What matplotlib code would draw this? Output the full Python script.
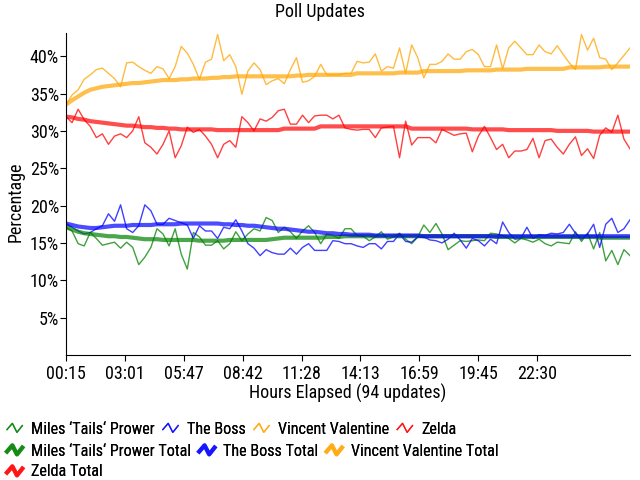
import matplotlib

matplotlib.use("Agg")
import matplotlib.pyplot as plt
import numpy as np
from matplotlib.legend_handler import HandlerBase
from matplotlib.lines import Line2D

plt.rcParams["font.family"] = ["Roboto Condensed", "Archivo Narrow", "DejaVu Sans"]
plt.rcParams["font.size"] = 13

# x axis: 94 updates, labelled with elapsed time
tick_labels = ["00:15", "03:01", "05:47", "08:42", "11:28", "14:13", "16:59", "19:45", "22:30"]

miles = [
    17.1, 16.6, 14.9, 14.6, 16.4, 15.6, 14.7, 14.9, 15.1, 14.3, 15.1, 14.4, 12.1, 13.1, 14.4, 16.9,
    16.2, 14.6, 16.9, 13.5, 11.5, 16.4, 15.8, 14.7, 14.7, 15.3, 14.2, 14.9, 16.5, 15.3, 16.2, 16.9,
    16.6, 18.4, 18.0, 16.4, 17.1, 16.5, 15.6, 16.6, 17.3, 16.4, 14.9, 16.2, 16.0, 15.6, 16.9, 16.9,
    16.0, 15.9, 15.3, 15.8, 16.5, 15.5, 15.8, 16.3, 15.5, 14.9, 15.8, 17.4, 16.4, 17.6, 16.2, 14.1,
    14.7, 15.3, 15.2, 15.3, 15.4, 15.3, 16.3, 16.2, 16.0, 15.6, 15.0, 15.6, 15.4, 15.1, 15.5, 14.9,
    14.6, 15.1, 15.0, 14.9, 16.5, 15.2, 16.3, 14.2, 16.4, 12.6, 14.0, 12.1, 14.1, 13.3,
]
boss = [
    17.6, 17.1, 16.6, 16.2, 16.4, 16.9, 17.3, 18.9, 17.9, 20.1, 16.9, 16.4, 17.3, 20.1, 19.3, 17.5,
    17.5, 18.3, 18.0, 17.7, 17.4, 15.6, 17.3, 16.6, 16.6, 15.6, 17.1, 16.9, 18.1, 16.6, 14.9, 14.3,
    13.3, 14.1, 13.7, 13.5, 13.5, 14.3, 13.5, 14.4, 14.9, 14.0, 14.0, 14.0, 15.3, 15.2, 14.9, 14.9,
    14.6, 14.4, 14.9, 14.9, 14.2, 15.2, 15.2, 16.2, 15.2, 15.1, 15.8, 15.8, 15.4, 15.3, 15.0, 15.5,
    16.3, 15.4, 14.3, 15.6, 15.3, 14.6, 15.5, 14.9, 17.8, 16.4, 15.5, 15.6, 17.1, 15.6, 16.1, 16.0,
    16.3, 16.2, 16.4, 17.5, 16.3, 15.5, 16.2, 17.5, 14.4, 17.5, 18.3, 16.4, 16.9, 18.1,
]
vincent = [
    33.5, 34.8, 35.5, 36.9, 37.5, 38.2, 38.4, 37.7, 37.0, 35.9, 39.1, 39.2, 38.6, 38.1, 37.7, 38.6,
    38.3, 37.0, 38.6, 41.3, 40.4, 38.9, 36.9, 39.2, 39.6, 42.9, 39.4, 40.2, 38.6, 34.9, 38.0, 39.1,
    38.2, 36.2, 36.7, 37.0, 36.3, 38.2, 39.8, 36.5, 36.7, 37.3, 38.9, 37.5, 37.5, 37.5, 37.7, 37.7,
    39.3, 39.1, 39.2, 40.3, 38.0, 38.6, 38.4, 41.1, 37.7, 41.5, 39.8, 37.1, 38.9, 38.9, 39.3, 40.3,
    39.6, 39.6, 40.6, 40.9, 40.2, 38.6, 38.6, 41.5, 38.3, 41.1, 42.0, 41.1, 40.2, 40.2, 41.5, 40.6,
    40.3, 41.4, 40.2, 39.1, 38.2, 42.9, 40.8, 42.4, 39.8, 39.6, 38.2, 39.1, 40.1, 41.1,
]
zelda = [
    31.9, 31.1, 32.9, 31.5, 30.6, 29.1, 29.6, 28.2, 29.3, 29.6, 29.1, 30.0, 31.9, 28.4, 27.8, 26.9,
    28.2, 30.0, 26.4, 28.0, 30.5, 29.8, 30.2, 29.3, 28.2, 26.4, 28.2, 28.7, 27.8, 31.9, 31.1, 30.0,
    31.6, 31.3, 31.8, 32.7, 32.9, 30.9, 30.9, 32.1, 31.1, 32.0, 32.1, 32.1, 31.6, 32.1, 30.4, 30.2,
    30.1, 30.2, 30.2, 29.1, 30.4, 30.5, 30.6, 26.4, 31.3, 28.1, 29.1, 29.1, 29.1, 28.4, 30.2, 29.8,
    29.4, 29.6, 29.7, 27.2, 29.3, 30.6, 29.1, 27.5, 28.2, 26.4, 27.3, 27.3, 27.5, 29.0, 26.4, 28.7,
    28.9, 27.8, 26.9, 28.2, 29.2, 26.7, 27.6, 26.3, 29.4, 30.4, 29.8, 32.1, 28.9, 27.6,
]

miles_total = [
    17.1, 16.8, 16.5, 16.3, 16.2, 16.1, 16.0, 15.9, 15.9, 15.8, 15.8, 15.7, 15.6, 15.5, 15.5, 15.5,
    15.4, 15.4, 15.4, 15.4, 15.4, 15.4, 15.3, 15.3, 15.3, 15.3, 15.3, 15.4, 15.4, 15.4, 15.4, 15.4,
    15.4, 15.4, 15.5, 15.6, 15.7, 15.7, 15.7, 15.7, 15.7, 15.7, 15.7, 15.8, 15.8, 15.8, 15.9, 15.9,
    15.9, 15.9, 15.9, 15.9, 15.9, 15.9, 15.9, 15.9, 15.9, 15.9, 15.9, 15.9, 15.9, 15.9, 15.9, 15.9,
    15.9, 15.9, 15.9, 15.9, 15.9, 15.9, 15.9, 15.8, 15.8, 15.8, 15.8, 15.8, 15.8, 15.8, 15.8, 15.8,
    15.8, 15.8, 15.8, 15.8, 15.8, 15.8, 15.8, 15.8, 15.7, 15.7, 15.7, 15.7, 15.7, 15.7,
]
boss_total = [
    17.6, 17.4, 17.2, 17.1, 17.0, 17.0, 17.1, 17.2, 17.3, 17.3, 17.3, 17.4, 17.4, 17.4, 17.4, 17.5,
    17.5, 17.5, 17.5, 17.6, 17.6, 17.6, 17.6, 17.6, 17.6, 17.6, 17.5, 17.5, 17.4, 17.4, 17.3, 17.3,
    17.2, 17.1, 17.0, 16.9, 16.9, 16.8, 16.7, 16.6, 16.5, 16.5, 16.4, 16.3, 16.3, 16.2, 16.2, 16.1,
    16.1, 16.1, 16.1, 16.0, 16.0, 16.0, 16.0, 16.0, 16.0, 16.0, 16.0, 15.9, 15.9, 15.9, 15.9, 15.9,
    15.9, 15.9, 15.9, 15.9, 15.9, 15.9, 15.9, 15.9, 15.9, 15.9, 15.9, 15.9, 15.9, 15.9, 15.9, 15.9,
    15.9, 15.9, 15.9, 15.9, 15.9, 15.9, 15.9, 15.9, 15.9, 15.9, 15.9, 15.9, 15.9, 15.9,
]
vincent_total = [
    33.5, 34.1, 34.6, 35.1, 35.5, 35.7, 35.9, 36.0, 36.1, 36.2, 36.3, 36.4, 36.4, 36.5, 36.6, 36.7,
    36.8, 36.8, 36.8, 36.9, 36.9, 37.0, 37.0, 37.0, 37.1, 37.1, 37.2, 37.2, 37.3, 37.3, 37.3, 37.3,
    37.3, 37.3, 37.3, 37.3, 37.3, 37.3, 37.4, 37.4, 37.5, 37.5, 37.5, 37.5, 37.5, 37.5, 37.5, 37.5,
    37.7, 37.7, 37.7, 37.7, 37.7, 37.7, 37.7, 37.8, 37.8, 37.8, 37.8, 38.0, 38.0, 38.0, 38.0, 38.0,
    38.0, 38.0, 38.1, 38.1, 38.1, 38.1, 38.1, 38.2, 38.2, 38.2, 38.2, 38.2, 38.3, 38.3, 38.3, 38.3,
    38.3, 38.3, 38.3, 38.5, 38.5, 38.5, 38.5, 38.5, 38.5, 38.6, 38.6, 38.6, 38.6, 38.6,
]
zelda_total = [
    31.9, 31.8, 31.6, 31.5, 31.3, 31.2, 31.1, 31.0, 30.9, 30.8, 30.7, 30.7, 30.6, 30.5, 30.5, 30.4,
    30.4, 30.3, 30.3, 30.2, 30.2, 30.2, 30.2, 30.2, 30.2, 30.1, 30.1, 30.1, 30.1, 30.1, 30.1, 30.1,
    30.1, 30.1, 30.1, 30.1, 30.3, 30.3, 30.3, 30.3, 30.3, 30.3, 30.6, 30.6, 30.6, 30.6, 30.6, 30.6,
    30.6, 30.6, 30.6, 30.6, 30.6, 30.6, 30.6, 30.6, 30.6, 30.3, 30.3, 30.3, 30.3, 30.3, 30.3, 30.3,
    30.3, 30.3, 30.3, 30.2, 30.2, 30.2, 30.2, 30.2, 30.2, 30.1, 30.1, 30.1, 30.1, 30.1, 30.1, 30.1,
    30.1, 30.0, 30.0, 30.0, 30.0, 30.0, 30.0, 29.9, 29.9, 29.9, 29.9, 29.9, 29.9, 29.9,
]

names = ["Miles \u2018Tails\u2018 Prower", "The Boss", "Vincent Valentine", "Zelda"]
colors = ["#008000", "#0000ff", "#ffa500", "#ff0000"]
series = [miles, boss, vincent, zelda]
totals = [miles_total, boss_total, vincent_total, zelda_total]


class ZigzagHandler(HandlerBase):
    # small "/\/" glyph like the original legend markers
    def create_artists(self, legend, orig_handle, xdescent, ydescent, width, height, fontsize, trans):
        xs = np.array([0.0, 0.35, 0.65, 1.0]) * width - xdescent
        ys = np.array([0.35, 0.9, 0.1, 0.7]) * height - ydescent
        line = Line2D(xs, ys, color=orig_handle.get_color(),
                      lw=orig_handle.get_linewidth(), alpha=orig_handle.get_alpha())
        line.set_transform(trans)
        return [line]


fig = plt.figure(figsize=(6.4, 4.8), dpi=100)
ax = fig.add_axes([66 / 640, 1 - 355 / 480, 564 / 640, 322 / 480])

x = np.arange(len(miles))
handles = []
for name, color, vals in zip(names, colors, series):
    (h,) = ax.plot(x, vals, color=color, lw=1.0, alpha=0.75, label=name)
    handles.append(h)
for name, color, vals in zip(names, colors, totals):
    (h,) = ax.plot(x, vals, color=color, lw=3.0, alpha=0.7, solid_capstyle="butt",
                   label=name + " Total")
    handles.append(h)

ax.set_xlim(0, len(miles) - 1)
ax.set_ylim(0, 43.1)
ax.set_yticks(np.arange(5, 45, 5))
ax.set_yticklabels([f"{v}%" for v in range(5, 45, 5)])
ax.set_xticks(np.arange(len(tick_labels)) * 9.71)
ax.set_xticklabels(tick_labels)
ax.tick_params(axis="y", length=4, pad=1, direction="out")
ax.tick_params(axis="x", length=4, pad=3, direction="out")
ax.spines["top"].set_visible(False)
ax.spines["right"].set_visible(False)
ax.set_xlabel("Hours Elapsed (94 updates)", labelpad=1)
ax.set_ylabel("Percentage")
ax.yaxis.set_label_coords(-0.074, 0.475)

fig.text(0.5, 1 - 12 / 480, "Poll Updates", ha="center", va="center")

rows = [handles[:4], handles[4:7], handles[7:]]
row_y = [429, 451, 472]
hmap = {Line2D: ZigzagHandler()}
for row, yy in zip(rows, row_y):
    leg = fig.legend(handles=row, loc="center left", bbox_to_anchor=(7 / 640, 1 - yy / 480),
                     ncol=len(row), frameon=False, fontsize=11.6, handlelength=0.95,
                     handletextpad=0.55, columnspacing=0.5, borderpad=0, borderaxespad=0,
                     handler_map=hmap)
    fig.add_artist(leg)

fig.savefig("out.png")
